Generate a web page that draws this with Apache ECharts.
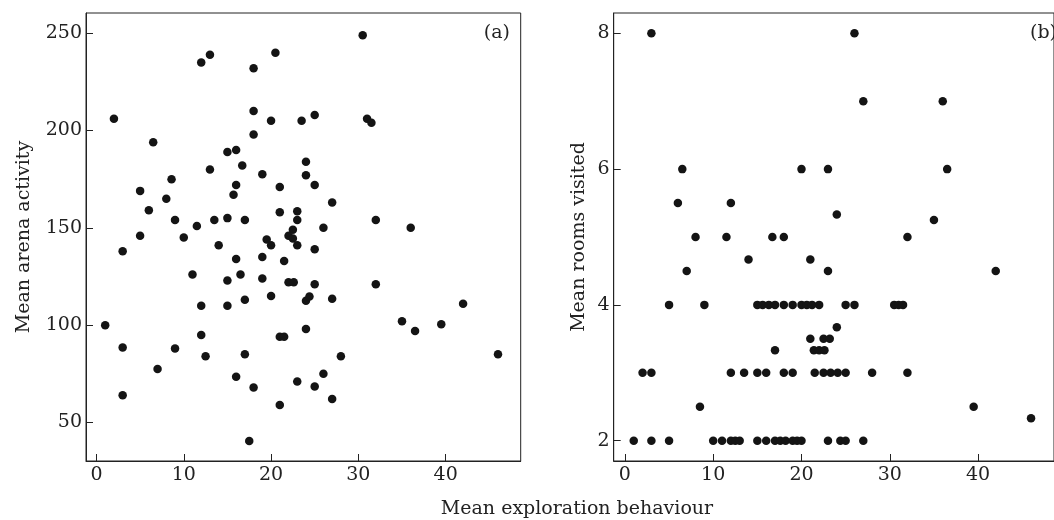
<!DOCTYPE html>
<html>
<head>
<meta charset="utf-8">
<script src="https://cdn.jsdelivr.net/npm/echarts@6/dist/echarts.min.js"></script>
<style>
html,body{margin:0;padding:0;background:#fff;}
#chart{width:1054px;height:520px;}
</style>
</head>
<body>
<div id="chart"></div>
<script>
// Panel (a): mean exploration behaviour vs mean arena activity
const arenaPoints = [
[2,206],[12,235],[13,239],[18,232],[20.5,240],[18,210],[20,205],[18,198],[6.5,194],[15,189],[16,190],[16.7,182],[13,180],[19,177.5],[21,171],[8.6,175],[16,172],[15.7,167],[5,169],[8,165],[6,159],[21,158],[9,154],[13.5,154],[15,155],[17,154],[11.5,151],[5,146],[10,145],[14,141],[19.5,144],[20,141],[3,138],
[30.5,249],[23.5,205],[25,208],[31,206],[31.5,204],[24,184],[24,177],[25,172],[27,163],[23,158.5],[23,154],[32,154],[26,150],[36,150],[22.5,149],[22,146],[22.5,144.5],[23,141],[25,139],
[16,134],[19,135],[21.5,133],[11,126],[16.5,126],[15,123],[19,124],[22,122],[12,110],[15,110],[17,113],[20,115],[1,100],[12,95],[21,94],[21.5,94],[3,88.5],[9,88],[12.5,84],[17,85],[7,77.5],[16,73.5],[18,68],[3,64],[21,59],[17.5,40.5],
[22.6,122],[25,121],[32,121],[24,112.5],[24.4,114.7],[27,113.6],[42,111],[35,102],[36.5,97],[39.5,100.5],[24,98],[46,85],[28,84],[26,75],[23,71],[25,68.5],[27,62]
];
// Panel (b): mean exploration behaviour vs mean rooms visited
const roomsPoints = [
[3,8],[26,8],[27,7],[36,7],[6.5,6],[20,6],[23,6],[36.5,6],[6,5.5],[12,5.5],[24,5.33],[35,5.25],
[8,5],[11.5,5],[16.7,5],[18,5],[32,5],[14,4.67],[21,4.67],[7,4.5],[23,4.5],[42,4.5],
[5,4],[9,4],[15,4],[15.6,4],[16.3,4],[17,4],[18,4],[19,4],[20,4],[20.6,4],[21.2,4],[22,4],[25,4],[26,4],[30.5,4],[31,4],[31.5,4],
[24,3.67],[21,3.5],[22.5,3.5],[23.2,3.5],[17,3.33],[21.4,3.33],[22,3.33],[22.6,3.33],
[2,3],[3,3],[12,3],[13.5,3],[15,3],[16,3],[18,3],[19,3],[21.5,3],[22.5,3],[23.3,3],[24.1,3],[25,3],[28,3],[32,3],
[8.5,2.5],[39.5,2.5],[46,2.33],
[1,2],[3,2],[5,2],[10,2],[11,2],[12,2],[12.5,2],[13,2],[15,2],[16,2],[17,2],[17.6,2],[18.2,2],[19,2],[19.5,2],[20,2],[23,2],[24.4,2],[25,2],[27,2]
];
const xTicks = [0,10,20,30,40];
const arenaTicks = [50,100,150,200,250];
const roomsTicks = [2,4,6,8];
const xTitle = 'Mean exploration behaviour';
const arenaTitle = 'Mean arena activity';
const roomsTitle = 'Mean rooms visited';
const panelLabels = ['(a)','(b)'];

const FONT = 'DejaVu Serif';
const TXT = '#222';
const LINE = '#222';
const DOT = '#141414';

function xAxisCfg(idx, min, max){
  return {
    gridIndex: idx, type:'value', min:min, max:max,
    splitLine:{show:false},
    axisLine:{show:true, onZero:false, lineStyle:{color:LINE, width:1}},
    axisTick:{show:true, inside:true, length:7, customValues:xTicks, lineStyle:{color:LINE}},
    axisLabel:{show:true, customValues:xTicks, color:TXT, fontFamily:FONT, fontSize:19, margin:5},
  };
}
function yAxisCfg(idx, min, max, ticks, name, gap){
  return {
    gridIndex: idx, type:'value', min:min, max:max,
    name:name, nameLocation:'middle', nameGap:gap,
    nameTextStyle:{color:TXT, fontFamily:FONT, fontSize:19},
    splitLine:{show:false},
    axisLine:{show:true, onZero:false, lineStyle:{color:LINE, width:1}},
    axisTick:{show:true, inside:true, length:7, customValues:ticks, lineStyle:{color:LINE}},
    axisLabel:{show:true, customValues:ticks, color:TXT, fontFamily:FONT, fontSize:19, margin:4},
  };
}

const chart = echarts.init(document.getElementById('chart'), null, {renderer:'canvas'});
chart.setOption({
  animation:false,
  backgroundColor:'#fff',
  grid:[
    {left:86, top:13, width:434.7, height:448, show:true, borderColor:LINE, borderWidth:1, backgroundColor:'transparent'},
    {left:613.7, top:13, width:454.3, height:448, show:true, borderColor:LINE, borderWidth:1, backgroundColor:'transparent'}
  ],
  xAxis:[ xAxisCfg(0,-1.2,48.6), xAxisCfg(1,-1.27,48.6) ],
  yAxis:[
    yAxisCfg(0, 30.2, 260.4, arenaTicks, arenaTitle, 52),
    yAxisCfg(1, 1.70, 8.30, roomsTicks, roomsTitle, 25)
  ],
  series:[
    {type:'scatter', xAxisIndex:0, yAxisIndex:0, data:arenaPoints, symbol:'circle', symbolSize:8.5, itemStyle:{color:DOT, opacity:1}, silent:true},
    {type:'scatter', xAxisIndex:1, yAxisIndex:1, data:roomsPoints, symbol:'circle', symbolSize:8.5, itemStyle:{color:DOT, opacity:1}, silent:true}
  ],
  graphic:[
    {type:'text', x:577, y:509, style:{text:xTitle, fill:TXT, font:'19px "DejaVu Serif"', textAlign:'center', textVerticalAlign:'middle'}},
    {type:'text', x:510, y:33, style:{text:panelLabels[0], fill:TXT, font:'19px "DejaVu Serif"', textAlign:'right', textVerticalAlign:'middle'}},
    {type:'text', x:1057, y:33, style:{text:panelLabels[1], fill:TXT, font:'19px "DejaVu Serif"', textAlign:'right', textVerticalAlign:'middle'}}
  ]
});
</script>
</body>
</html>
